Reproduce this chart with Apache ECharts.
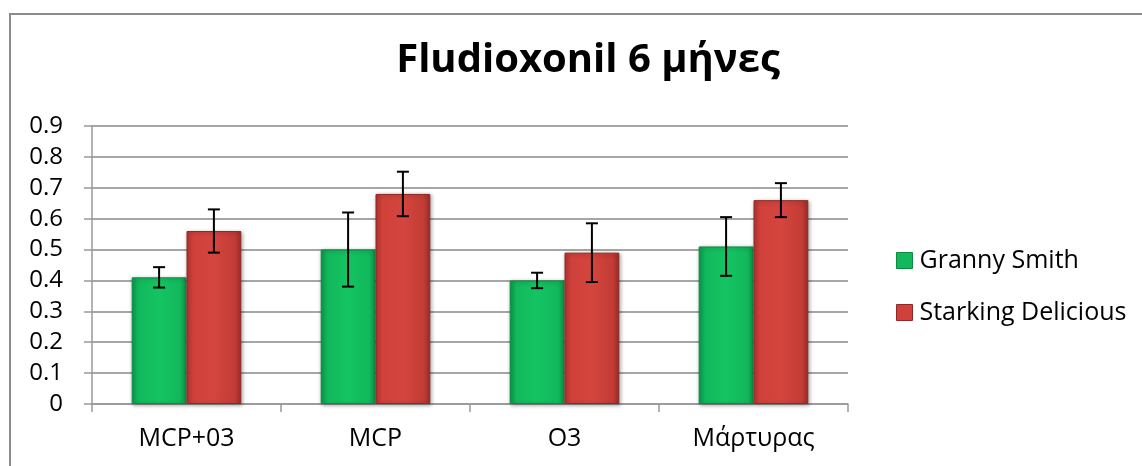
<!DOCTYPE html>
<html>
<head>
<meta charset="utf-8">
<script src="https://cdn.jsdelivr.net/npm/echarts@6/dist/echarts.min.js"></script>
<style>
  html, body { margin: 0; padding: 0; background: #fff; }
  #chart { width: 1142px; height: 466px; }
</style>
</head>
<body>
<div id="chart"></div>
<script>
const categories = ["MCP+03", "MCP", "O3", "Μάρτυρας"];
const grannySmith = [0.41, 0.50, 0.40, 0.51];
const grannyErr = [0.033, 0.12, 0.025, 0.095];
const starking = [0.56, 0.68, 0.49, 0.66];
const starkingErr = [0.07, 0.072, 0.095, 0.055];
const yTicks = [0, 0.1, 0.2, 0.3, 0.4, 0.5, 0.6, 0.7, 0.8, 0.9];

const font = "Open Sans";

const greenFill = new echarts.graphic.LinearGradient(0, 0, 1, 0, [
  { offset: 0, color: "#0a9a4c" },
  { offset: 0.12, color: "#12b85c" },
  { offset: 0.5, color: "#14c462" },
  { offset: 0.88, color: "#12b85c" },
  { offset: 1, color: "#0a9a4c" },
]);
const redFill = new echarts.graphic.LinearGradient(0, 0, 1, 0, [
  { offset: 0, color: "#b53530" },
  { offset: 0.12, color: "#d0413b" },
  { offset: 0.5, color: "#d4453e" },
  { offset: 0.88, color: "#c23c36" },
  { offset: 1, color: "#9e2c28" },
]);

// error bars drawn next to each bar, shift = fraction of band width
function errorSeries(values, errs, shift) {
  return {
    type: "custom",
    silent: true,
    z: 5,
    data: values.map((v, i) => [i, v, errs[i]]),
    renderItem: function (params, api) {
      const i = api.value(0);
      const band = api.size([1, 0])[0];
      const hi = api.coord([i, api.value(1) + api.value(2)]);
      const lo = api.coord([i, api.value(1) - api.value(2)]);
      const x = hi[0] + shift * band;
      const cap = 6;
      const style = { stroke: "#000", lineWidth: 2 };
      return {
        type: "group",
        children: [
          { type: "line", shape: { x1: x, y1: hi[1], x2: x, y2: lo[1] }, style: style },
          { type: "line", shape: { x1: x - cap, y1: hi[1], x2: x + cap, y2: hi[1] }, style: style },
          { type: "line", shape: { x1: x - cap, y1: lo[1], x2: x + cap, y2: lo[1] }, style: style },
        ],
      };
    },
  };
}

const chart = echarts.init(document.getElementById("chart"));
chart.setOption({
  animation: false,
  title: {
    text: "Fludioxonil 6 μήνες",
    left: 583,
    textAlign: "center",
    top: 36,
    textStyle: { fontFamily: font, fontWeight: "bold", fontSize: 40, color: "#000" },
  },
  graphic: [
    {
      type: "rect",
      shape: { x: 10, y: 14, width: 1200, height: 500 },
      style: { fill: "none", stroke: "#8c8c8c", lineWidth: 2 },
      silent: true,
    },
  ],
  legend: {
    orient: "vertical",
    left: 891,
    top: 243,
    itemGap: 27,
    itemWidth: 16,
    itemHeight: 16,
    icon: "rect",
    textStyle: { fontFamily: font, fontSize: 25, color: "#000", padding: [0, 0, 0, 2] },
    data: [
      { name: "Granny Smith", itemStyle: { color: "#12b85c", borderColor: "#0a8a44", borderWidth: 1 } },
      { name: "Starking Delicious", itemStyle: { color: "#d0413b", borderColor: "#8e2a26", borderWidth: 1 } },
    ],
  },
  grid: { left: 92, right: 294, top: 126, bottom: 62 },
  xAxis: {
    type: "category",
    data: categories,
    axisLine: { lineStyle: { color: "#999", width: 1.5 } },
    axisTick: { show: true, length: 8, lineStyle: { color: "#999", width: 1.5 } },
    axisLabel: { fontFamily: font, fontSize: 25, color: "#000", margin: 22 },
  },
  yAxis: {
    type: "value",
    min: yTicks[0],
    max: yTicks[yTicks.length - 1],
    interval: 0.1,
    axisLine: { show: true, lineStyle: { color: "#999", width: 1.5 } },
    axisTick: { show: true, length: 8, lineStyle: { color: "#999", width: 1.5 } },
    splitLine: { lineStyle: { color: "#a6a6a6", width: 2 } },
    axisLabel: {
      fontFamily: font,
      fontSize: 24,
      color: "#000",
      margin: 29,
      formatter: (v) => String(Math.round(v * 10) / 10),
    },
  },
  series: [
    {
      name: "Granny Smith",
      type: "bar",
      data: grannySmith,
      barGap: "0%",
      barCategoryGap: "42%",
      itemStyle: {
        color: greenFill,
        borderColor: "#0b8a45",
        borderWidth: 1,
        shadowBlur: 4,
        shadowColor: "rgba(0,0,0,0.35)",
        shadowOffsetX: 1,
        shadowOffsetY: 1,
      },
    },
    {
      name: "Starking Delicious",
      type: "bar",
      data: starking,
      itemStyle: {
        color: redFill,
        borderColor: "#8e2a26",
        borderWidth: 1,
        shadowBlur: 4,
        shadowColor: "rgba(0,0,0,0.35)",
        shadowOffsetX: 1,
        shadowOffsetY: 1,
      },
    },
    errorSeries(grannySmith, grannyErr, -0.145),
    errorSeries(starking, starkingErr, 0.145),
  ],
});
</script>
</body>
</html>
